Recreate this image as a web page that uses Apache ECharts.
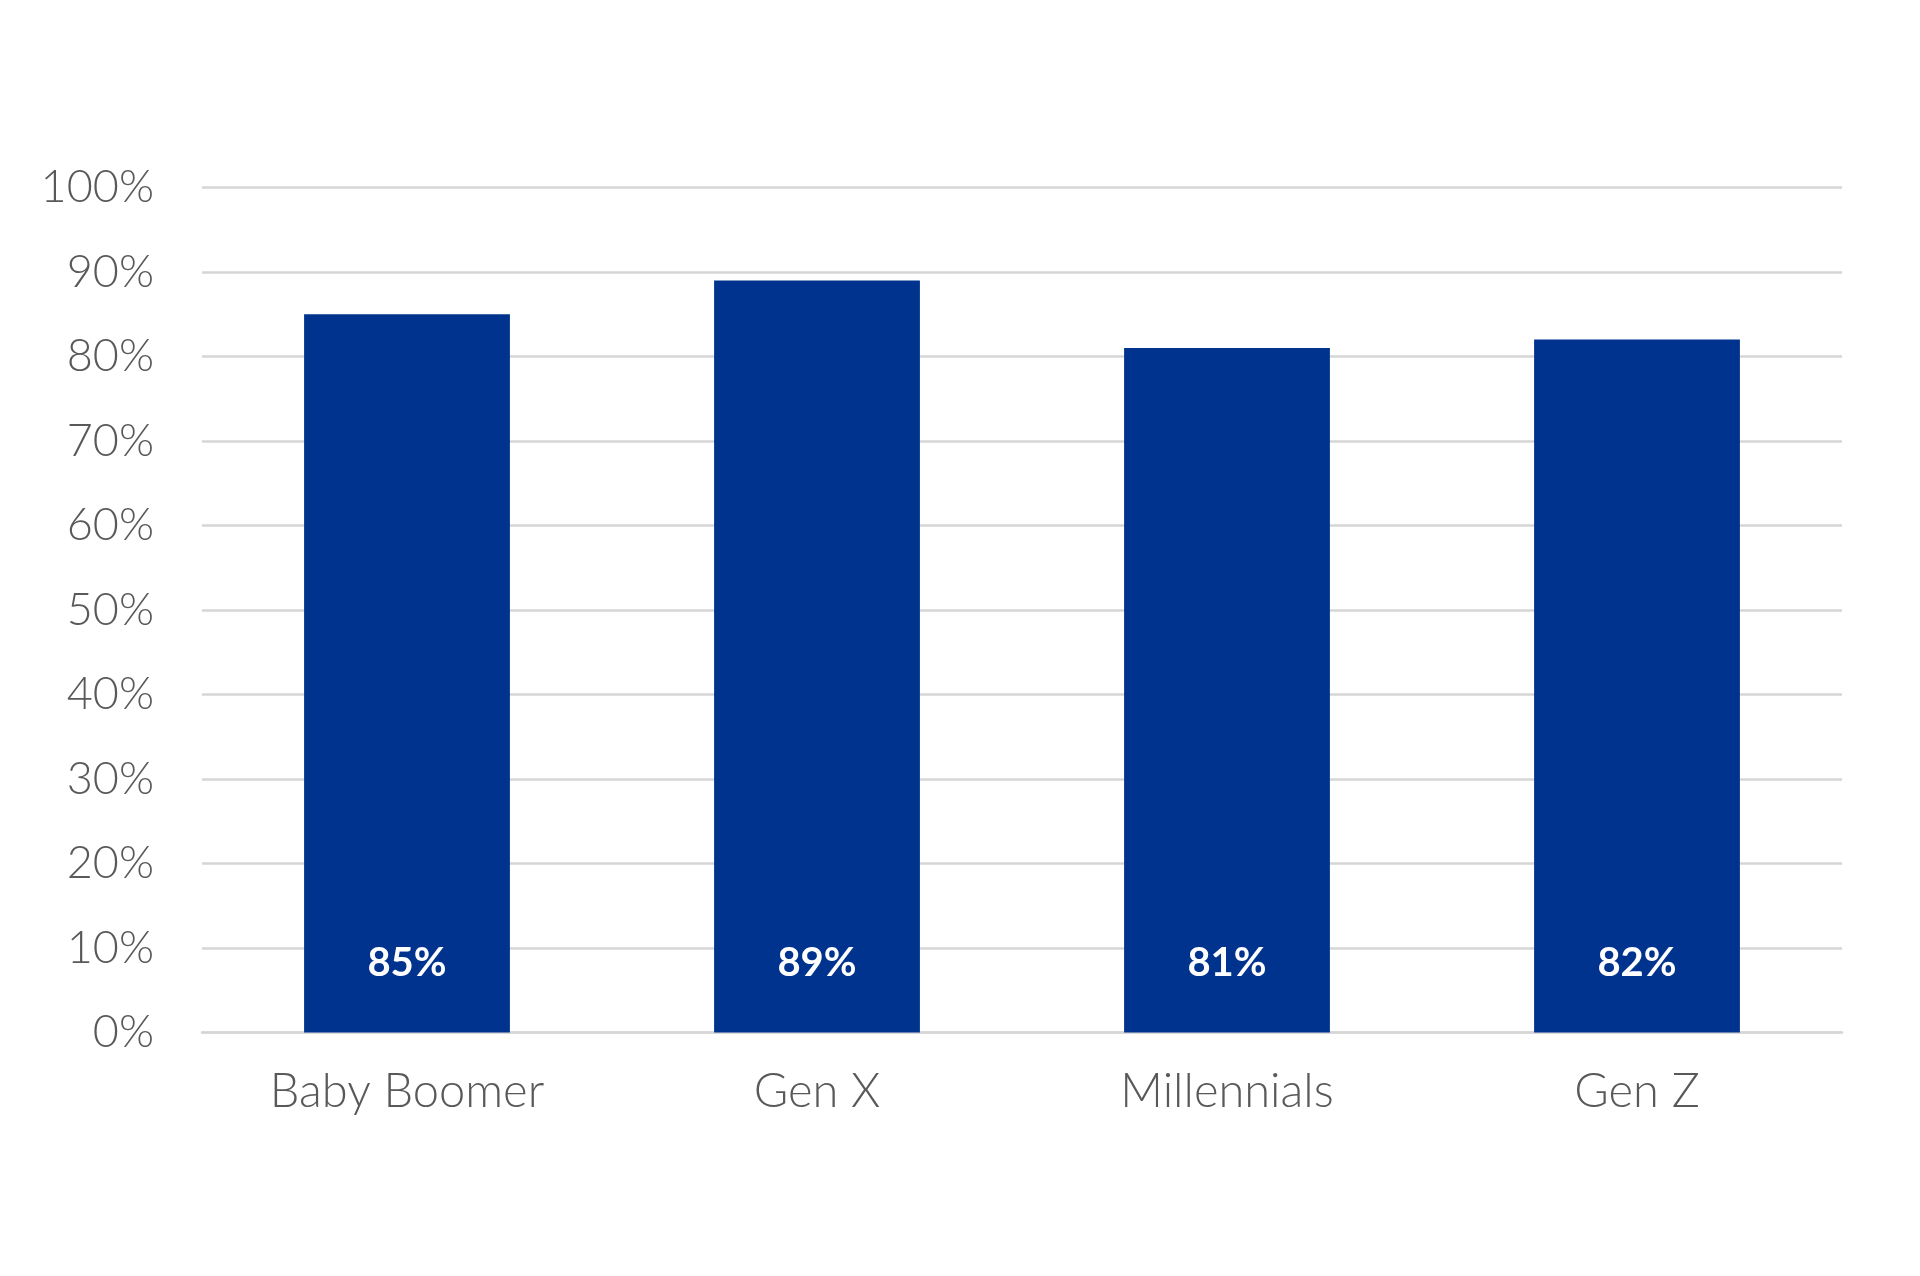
<!DOCTYPE html>
<html>
<head>
<meta charset="utf-8">
<script src="https://cdn.jsdelivr.net/npm/echarts@6/dist/echarts.min.js"></script>
<style>
html,body{margin:0;padding:0;background:#fff;}
#c{width:1920px;height:1276px;}
</style>
</head>
<body>
<div id="c"></div>
<script>
const categories = ['Baby Boomer', 'Gen X', 'Millennials', 'Gen Z'];
const values = [85, 89, 81, 82];
const yTicks = [0, 10, 20, 30, 40, 50, 60, 70, 80, 90, 100];

const chart = echarts.init(document.getElementById('c'));
chart.setOption({
  backgroundColor: '#ffffff',
  animation: false,
  grid: { left: 202, right: 78, top: 187.5, bottom: 243.5, containLabel: false },
  xAxis: {
    type: 'category',
    data: categories,
    axisLine: { show: true, lineStyle: { color: '#d6d6d6', width: 2.5 } },
    axisTick: { show: false },
    axisLabel: {
      color: '#595959', fontSize: 47, fontFamily: 'Lato', fontWeight: 300, margin: 36
    }
  },
  yAxis: {
    type: 'value',
    min: yTicks[0],
    max: yTicks[yTicks.length - 1],
    interval: 10,
    axisLine: { show: false },
    axisTick: { show: false },
    splitLine: { lineStyle: { color: '#d6d6d6', width: 2.5 } },
    axisLabel: {
      color: '#595959', fontSize: 45, fontFamily: 'Lato', fontWeight: 300, margin: 48,
      formatter: v => v + '%'
    }
  },
  series: [{
    type: 'bar',
    data: values,
    barWidth: '50.2%',
    itemStyle: { color: '#00338D' },
    label: {
      show: true,
      position: 'insideBottom',
      distance: 49,
      color: '#ffffff',
      fontSize: 40,
      fontWeight: 'bold',
      fontFamily: 'Lato',
      formatter: p => p.value + '%'
    }
  }]
});
</script>
</body>
</html>
